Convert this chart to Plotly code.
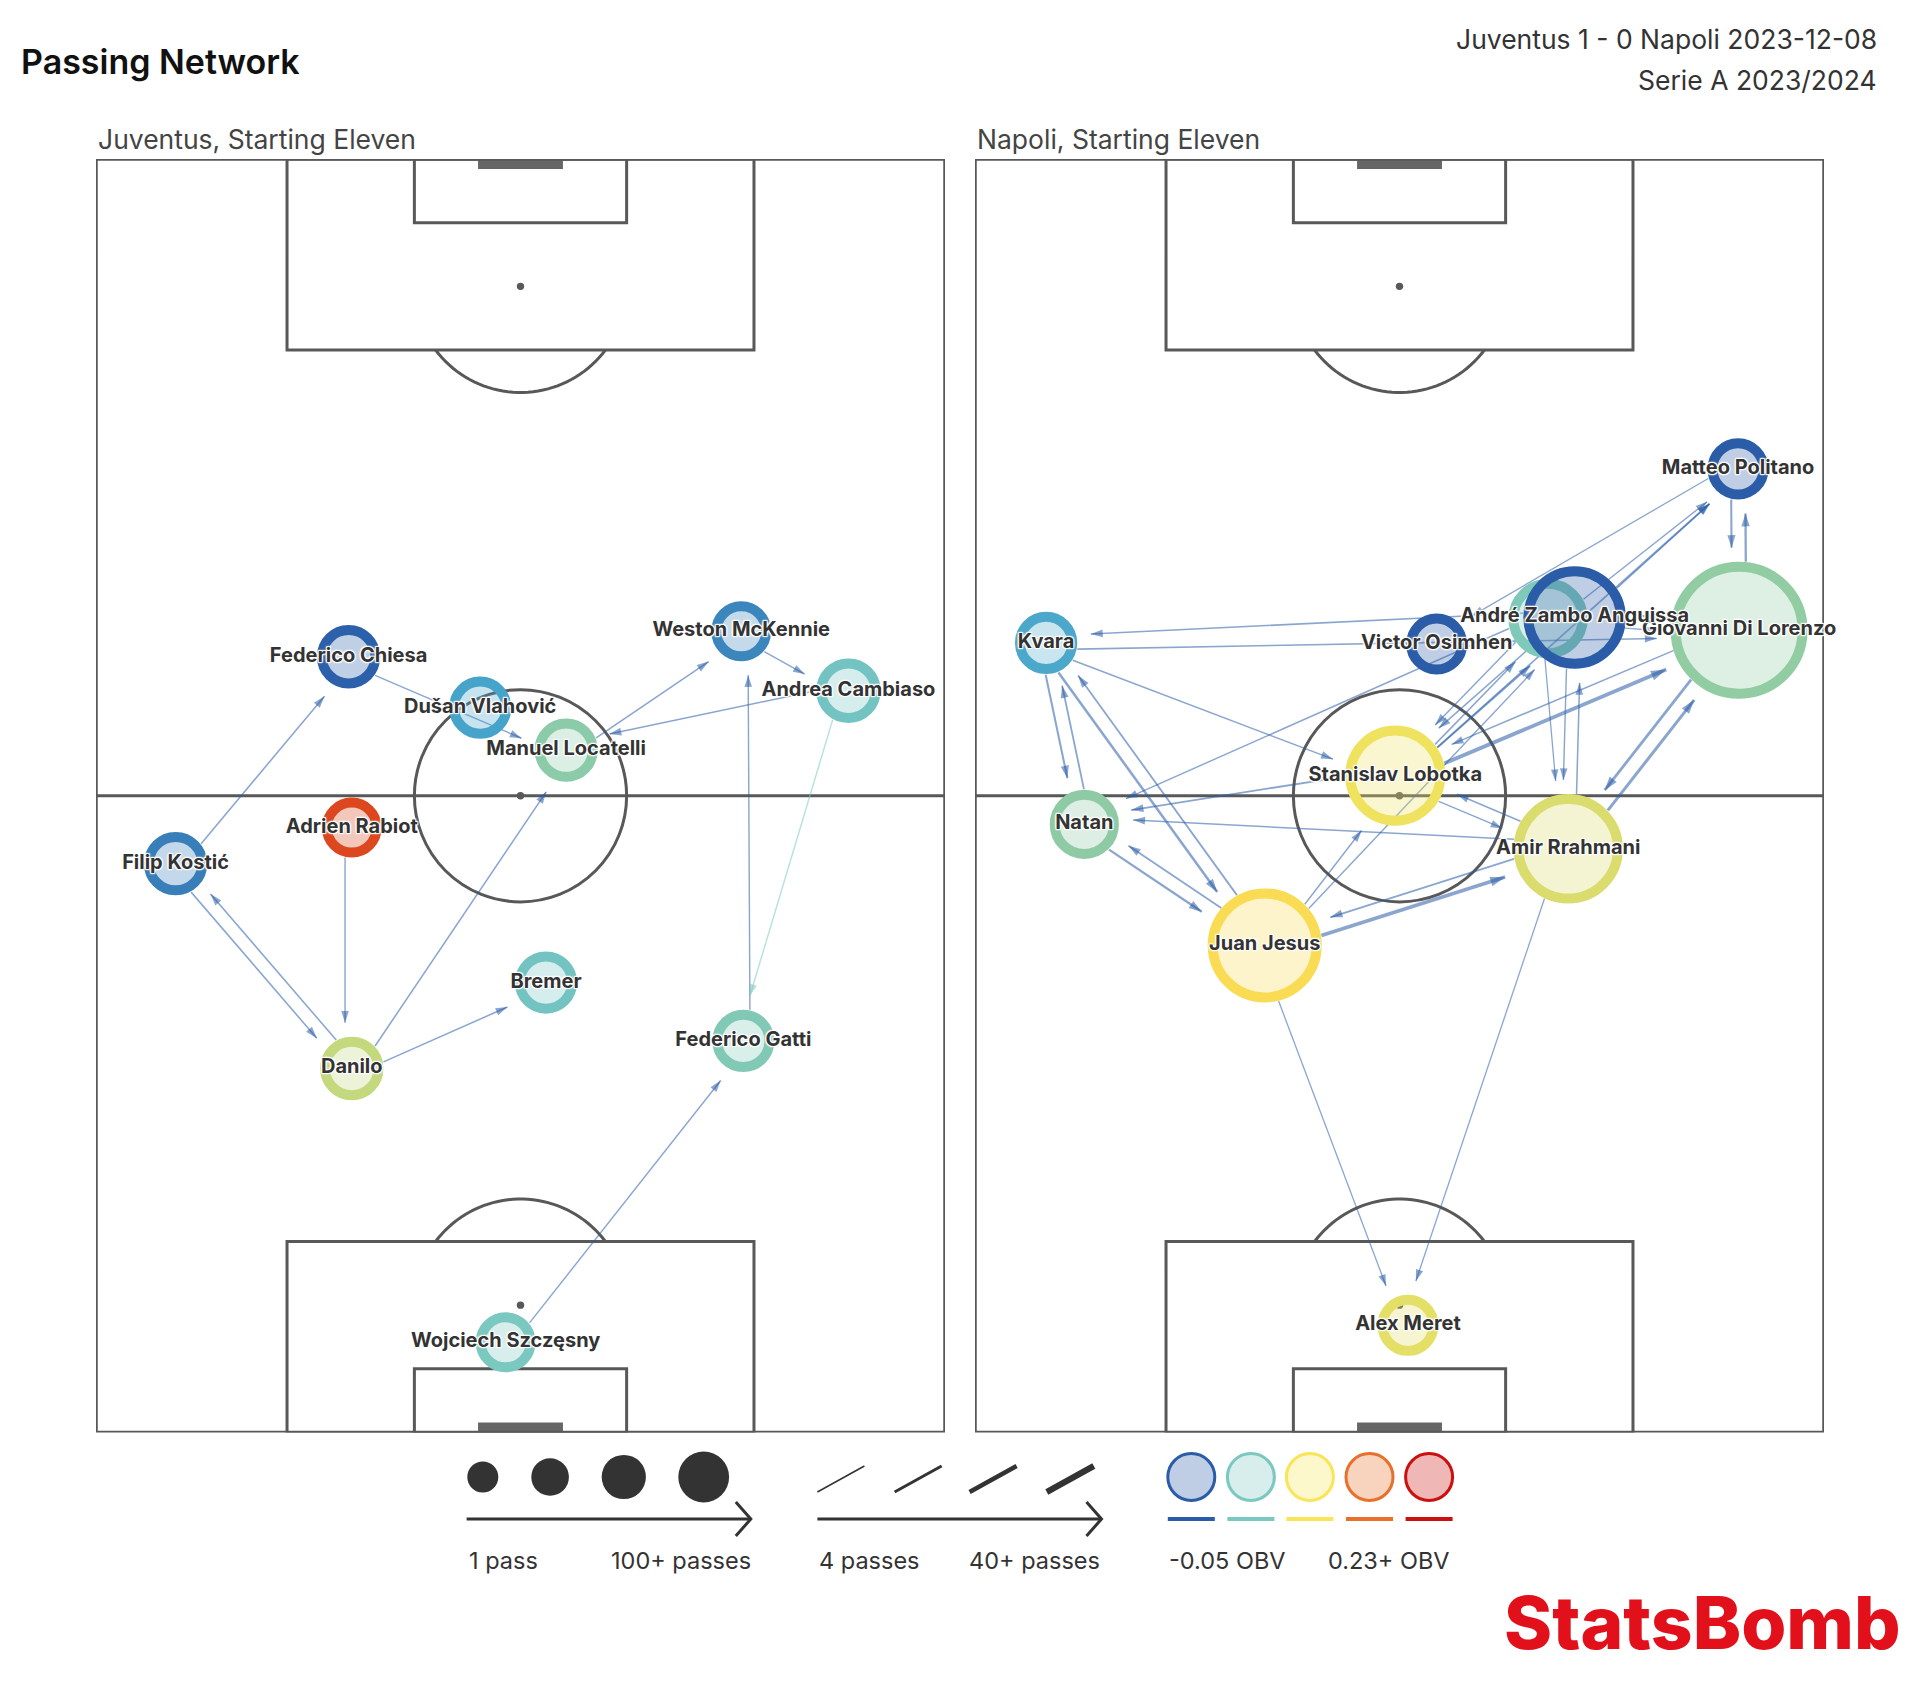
import numpy as np
import plotly.graph_objects as go

# ---------------- data ----------------
juve_names = ["Federico Chiesa", "Dušan Vlahović", "Manuel Locatelli", "Weston McKennie",
              "Andrea Cambiaso", "Adrien Rabiot", "Filip Kostić", "Bremer", "Danilo",
              "Federico Gatti", "Wojciech Szczęsny"]
juve_x = [23.8, 36.2, 44.3, 60.8, 70.9, 24.1, 7.5, 42.4, 24.1, 61.0, 38.6]
juve_y = [73.1, 68.3, 64.3, 75.5, 69.9, 57.0, 53.6, 42.4, 34.3, 36.9, 8.5]
juve_passes = [36, 35, 36, 33, 37, 33, 36, 35, 36, 35, 33]
juve_obv = [-0.048, -0.016, 0.037, -0.030, 0.015, 0.190, -0.033, 0.015, 0.065, 0.028, 0.020]
juve_show_label = [True] * 11

juve_edge_from = ["Filip Kostić", "Federico Chiesa", "Manuel Locatelli", "Andrea Cambiaso",
                  "Weston McKennie", "Federico Gatti", "Andrea Cambiaso", "Filip Kostić",
                  "Danilo", "Adrien Rabiot", "Danilo", "Danilo", "Wojciech Szczęsny"]
juve_edge_to = ["Federico Chiesa", "Manuel Locatelli", "Weston McKennie", "Manuel Locatelli",
                "Andrea Cambiaso", "Weston McKennie", "Federico Gatti", "Danilo",
                "Filip Kostić", "Danilo", "Manuel Locatelli", "Bremer", "Federico Gatti"]
juve_edge_passes = [6, 5, 6, 6, 5, 5, 5, 6, 6, 5, 6, 6, 5]
juve_edge_obv = [-0.05, -0.05, -0.05, -0.05, -0.05, -0.05, 0.02, -0.05, -0.05, -0.05, -0.05, -0.05, -0.05]

napoli_names = ["Matteo Politano", "Giovanni Di Lorenzo", "Piotr Zieliński", "André Zambo Anguissa",
                "Victor Osimhen", "Kvara", "Stanislav Lobotka", "Natan", "Amir Rrahmani",
                "Juan Jesus", "Alex Meret"]
napoli_x = [71.9, 72.0, 54.0, 56.5, 43.5, 6.7, 39.6, 10.3, 55.9, 27.3, 40.8]
napoli_y = [90.8, 75.6, 76.7, 76.8, 74.3, 74.4, 61.9, 57.3, 55.0, 45.9, 10.1]
napoli_passes = [34, 100, 50, 70, 34, 35, 68, 41, 76, 80, 34]
napoli_obv = [-0.050, 0.042, 0.025, -0.050, -0.050, -0.012, 0.085, 0.040, 0.075, 0.095, 0.080]
napoli_show_label = [True, True, False, True, True, True, True, True, True, True, True]

napoli_edge_from = ["Kvara", "Natan", "Kvara", "Juan Jesus", "Natan", "Juan Jesus", "Kvara", "Kvara",
                    "André Zambo Anguissa", "Stanislav Lobotka", "Amir Rrahmani", "Piotr Zieliński",
                    "Juan Jesus", "Amir Rrahmani", "Juan Jesus", "Juan Jesus",
                    "Stanislav Lobotka", "Giovanni Di Lorenzo", "Amir Rrahmani", "Giovanni Di Lorenzo",
                    "Stanislav Lobotka", "André Zambo Anguissa", "Piotr Zieliński", "Matteo Politano",
                    "Matteo Politano", "Giovanni Di Lorenzo", "Stanislav Lobotka", "André Zambo Anguissa",
                    "Stanislav Lobotka", "Piotr Zieliński", "André Zambo Anguissa", "Amir Rrahmani",
                    "Piotr Zieliński", "Stanislav Lobotka", "Amir Rrahmani", "André Zambo Anguissa",
                    "Giovanni Di Lorenzo", "Amir Rrahmani", "Juan Jesus"]
napoli_edge_to = ["Natan", "Kvara", "Juan Jesus", "Kvara", "Juan Jesus", "Natan", "Stanislav Lobotka",
                  "Giovanni Di Lorenzo", "Kvara", "Natan", "Natan", "Natan",
                  "Amir Rrahmani", "Juan Jesus", "Stanislav Lobotka", "André Zambo Anguissa",
                  "Giovanni Di Lorenzo", "Stanislav Lobotka", "Giovanni Di Lorenzo", "Amir Rrahmani",
                  "Matteo Politano", "Matteo Politano", "Matteo Politano", "Victor Osimhen",
                  "Giovanni Di Lorenzo", "Matteo Politano", "André Zambo Anguissa", "Stanislav Lobotka",
                  "Piotr Zieliński", "Stanislav Lobotka", "Amir Rrahmani", "André Zambo Anguissa",
                  "Amir Rrahmani", "Amir Rrahmani", "Stanislav Lobotka", "Giovanni Di Lorenzo",
                  "André Zambo Anguissa", "Alex Meret", "Alex Meret"]
napoli_edge_passes = [10, 8, 14, 8, 12, 8, 6, 6, 6, 8, 6, 5, 22, 8, 5, 5, 24, 6, 18, 16,
                      8, 6, 5, 4, 10, 12, 8, 6, 6, 5, 5, 6, 4, 5, 6, 5, 5, 4, 4]
napoli_edge_obv = [-0.05] * len(napoli_edge_passes)

# legend values
size_legend_passes = [1, 34, 67, 100]
size_legend_text = ["1 pass", "100+ passes"]
width_legend_passes = [4, 16, 28, 40]
width_legend_text = ["4 passes", "40+ passes"]
obv_legend_values = [-0.05, 0.02, 0.09, 0.16, 0.23]
obv_legend_text = ["-0.05 OBV", "0.23+ OBV"]

title_text = "Passing Network"
match_text = "Juventus 1 - 0 Napoli 2023-12-08"
comp_text = "Serie A 2023/2024"
team_titles = ["Juventus, Starting Eleven", "Napoli, Starting Eleven"]

# ---------------- styling / geometry ----------------
PAGE_W, PAGE_H = 1920, 1690
BODY = 8                      # default page margin around the figure div
W, H = PAGE_W - 2 * BODY, PAGE_H - 2 * BODY
PITCH_TOP = 159
PITCH_LEFTS = [96, 975]
SCALE = 10.6125          # px per pitch unit
PITCH_W, PITCH_L = 80, 120
RING = 10
LINE_C = "#585858"
TXT_C = "#333333"
FONT = "Inter"

OBV_STOPS = [-0.05, -0.015, 0.02, 0.04, 0.09, 0.16, 0.23]
OBV_COLS = ["#2a5ca8", "#47a5cb", "#7ac8c0", "#8ecba5", "#fae457", "#e8702a", "#cc1010"]


def hex2rgb(h):
    return tuple(int(h[i:i + 2], 16) for i in (1, 3, 5))


def obv_rgb(v):
    v = min(max(v, OBV_STOPS[0]), OBV_STOPS[-1])
    for i in range(len(OBV_STOPS) - 1):
        a, b = OBV_STOPS[i], OBV_STOPS[i + 1]
        if v <= b:
            t = (v - a) / (b - a)
            c0, c1 = hex2rgb(OBV_COLS[i]), hex2rgb(OBV_COLS[i + 1])
            return tuple(round(c0[k] + (c1[k] - c0[k]) * t) for k in range(3))
    return hex2rgb(OBV_COLS[-1])


def rgba(c, a):
    return f"rgba({c[0]},{c[1]},{c[2]},{a})"


def node_diam(p):
    return 22 + 1.15 * p


def edge_width(n):
    return 0.5 + 0.125 * n


def PX(x):
    return (x - BODY) / W


def PY(y):
    return 1 - (y - BODY) / H


fig = go.Figure()

teams = [
    dict(names=juve_names, x=juve_x, y=juve_y, passes=juve_passes, obv=juve_obv, show=juve_show_label,
         efrom=juve_edge_from, eto=juve_edge_to, epasses=juve_edge_passes, eobv=juve_edge_obv,
         xa="x", ya="y"),
    dict(names=napoli_names, x=napoli_x, y=napoli_y, passes=napoli_passes, obv=napoli_obv,
         show=napoli_show_label, efrom=napoli_edge_from, eto=napoli_edge_to,
         epasses=napoli_edge_passes, eobv=napoli_edge_obv, xa="x2", ya="y2"),
]

for tm in teams:
    pos = {n: np.array([x, y]) for n, x, y in zip(tm["names"], tm["x"], tm["y"])}
    diam = {n: node_diam(p) for n, p in zip(tm["names"], tm["passes"])}
    hx, hy, hang, hsize, hcol = [], [], [], [], []
    for s_name, d_name, n, ov in zip(tm["efrom"], tm["eto"], tm["epasses"], tm["eobv"]):
        s, d = pos[s_name], pos[d_name]
        v = d - s
        u = v / np.linalg.norm(v)
        nrm = np.array([u[1], -u[0]])
        w = edge_width(n) + 0.3
        off = (6 + w / 2) / SCALE
        p0 = s + u * (diam[s_name] / 2) / SCALE + nrm * off
        p1 = d - u * (diam[d_name] / 2 + 14) / SCALE + nrm * off
        col = rgba(obv_rgb(ov), 0.55)
        fig.add_trace(go.Scatter(x=[p0[0], p1[0]], y=[p0[1], p1[1]], mode="lines",
                                 line=dict(color=col, width=w), xaxis=tm["xa"], yaxis=tm["ya"],
                                 hoverinfo="skip", showlegend=False))
        hx.append(p1[0]); hy.append(p1[1])
        hang.append(float(np.degrees(np.arctan2(u[0], u[1]))))
        hsize.append(10 + 1.6 * w)
        hcol.append(col)
    fig.add_trace(go.Scatter(x=hx, y=hy, mode="markers", xaxis=tm["xa"], yaxis=tm["ya"],
                             marker=dict(symbol="arrow", angle=hang, size=hsize, color=hcol,
                                         opacity=1, line=dict(width=0)),
                             hoverinfo="skip", showlegend=False))
    ring_cols = [rgba(obv_rgb(o), 1) for o in tm["obv"]]
    fill_cols = [rgba(obv_rgb(o), 0.3) for o in tm["obv"]]
    fig.add_trace(go.Scatter(x=tm["x"], y=tm["y"], mode="markers", xaxis=tm["xa"], yaxis=tm["ya"],
                             marker=dict(size=[node_diam(p) - RING for p in tm["passes"]],
                                         color=fill_cols, opacity=1,
                                         line=dict(color=ring_cols, width=RING)),
                             text=tm["names"], hovertemplate="%{text}<extra></extra>",
                             showlegend=False, cliponaxis=False))
    fig.add_trace(go.Scatter(x=tm["x"], y=tm["y"], mode="text", xaxis=tm["xa"], yaxis=tm["ya"],
                             text=[n if sh else "" for n, sh in zip(tm["names"], tm["show"])],
                             textposition="middle center",
                             textfont=dict(family=FONT, size=20, color=TXT_C, weight=700,
                                           shadow="1px 1px 1px white, -1px -1px 1px white, 1px -1px 1px white, -1px 1px 1px white, 0px 0px 3px white"),
                             hoverinfo="skip", showlegend=False, cliponaxis=False))

# ---------------- pitch shapes ----------------
shapes = []


def pitch_shapes(xr, yr):
    out = []
    L = dict(color=LINE_C, width=3)

    def rect(x0, y0, x1, y1, fill=None):
        d = dict(type="rect", xref=xr, yref=yr, x0=x0, y0=y0, x1=x1, y1=y1, line=L, layer="below")
        if fill:
            d.update(fillcolor=fill, line=dict(width=0))
        out.append(d)

    rect(18, 102, 62, 120)
    rect(30, 114, 50, 120)
    rect(18, 0, 62, 18)
    rect(30, 0, 50, 6)
    rect(36, 119.05, 44, 120, fill="#666666")
    rect(36, 0, 44, 0.95, fill="#666666")
    out.append(dict(type="line", xref=xr, yref=yr, x0=0, y0=60, x1=80, y1=60, line=L, layer="below"))
    out.append(dict(type="circle", xref=xr, yref=yr, x0=30, y0=50, x1=50, y1=70, line=L, layer="below"))
    for cy in (60, 108, 12):
        out.append(dict(type="circle", xref=xr, yref=yr, x0=40 - 0.35, y0=cy - 0.35, x1=40 + 0.35,
                        y1=cy + 0.35, fillcolor=LINE_C, line=dict(width=0), layer="below"))
    a = np.arcsin(0.6)
    th = np.linspace(np.pi + a, 2 * np.pi - a, 40)
    path = "M " + " L ".join(f"{40 + 10 * np.cos(t):.3f},{108 + 10 * np.sin(t):.3f}" for t in th)
    out.append(dict(type="path", xref=xr, yref=yr, path=path, line=L, layer="below"))
    th = np.linspace(a, np.pi - a, 40)
    path = "M " + " L ".join(f"{40 + 10 * np.cos(t):.3f},{12 + 10 * np.sin(t):.3f}" for t in th)
    out.append(dict(type="path", xref=xr, yref=yr, path=path, line=L, layer="below"))
    out.append(dict(type="rect", xref=xr, yref=yr, x0=0, y0=0, x1=80, y1=120,
                    line=dict(color=LINE_C, width=3.5), layer="below"))
    return out


shapes += pitch_shapes("x", "y")
shapes += pitch_shapes("x2", "y2")

# ---------------- legend ----------------
LEG_CY = 1477
ARROW_Y = 1519
TEXT_Y = 1560
DARK = "#333333"


def circle_px(cx, cy, dd, **kw):
    r = dd / 2
    d = dict(type="circle", xref="paper", yref="paper", x0=PX(cx - r), x1=PX(cx + r),
             y0=PY(cy + r), y1=PY(cy - r))
    d.update(kw)
    return d


def arrow_px(x0, x1, y):
    return [dict(type="line", xref="paper", yref="paper", x0=PX(x0), x1=PX(x1), y0=PY(y), y1=PY(y),
                 line=dict(color=DARK, width=3)),
            dict(type="path", xref="paper", yref="paper",
                 path=f"M {PX(x1 - 15)},{PY(y - 17)} L {PX(x1)},{PY(y)} L {PX(x1 - 15)},{PY(y + 17)}",
                 line=dict(color=DARK, width=3))]


size_cx = [482.8, 550.1, 623.8, 703.7]
for cx, p in zip(size_cx, size_legend_passes):
    shapes.append(circle_px(cx, LEG_CY, 30.8 + 0.2 * p, fillcolor=DARK, line=dict(width=0)))
shapes += arrow_px(466.6, 750.8, ARROW_Y)

seg_x = [817.4, 894.6, 969.6, 1046.8]
for sx, p in zip(seg_x, width_legend_passes):
    shapes.append(dict(type="line", xref="paper", yref="paper", x0=PX(sx), x1=PX(sx + 47),
                       y0=PY(1492), y1=PY(1466), line=dict(color=DARK, width=edge_width(p) + 0.5)))
shapes += arrow_px(817.4, 1101.5, ARROW_Y)

obv_cx = [1191.3, 1250.9, 1309.9, 1369.5, 1429.1]
for cx, ov in zip(obv_cx, obv_legend_values):
    c = obv_rgb(ov)
    shapes.append(circle_px(cx, LEG_CY, 47, fillcolor=rgba(c, 0.3), line=dict(color=rgba(c, 1), width=3)))
    shapes.append(dict(type="line", xref="paper", yref="paper", x0=PX(cx - 23.5), x1=PX(cx + 23.5),
                       y0=PY(ARROW_Y), y1=PY(ARROW_Y), line=dict(color=rgba(c, 1), width=4)))

annotations = []


def txt(text, x, y, size, xanchor="left", color=DARK, weight=400, family=FONT):
    annotations.append(dict(text=text, x=PX(x), y=PY(y), xref="paper", yref="paper", showarrow=False,
                            xanchor=xanchor, yanchor="middle",
                            font=dict(family=family, size=size, color=color, weight=weight)))


txt(size_legend_text[0], 466.6, TEXT_Y, 23.5)
txt(size_legend_text[1], 752.9, TEXT_Y, 23.5, xanchor="right")
txt(width_legend_text[0], 817.4, TEXT_Y, 23.5)
txt(width_legend_text[1], 1101.5, TEXT_Y, 23.5, xanchor="right")
txt(obv_legend_text[0], 1166.7, TEXT_Y, 23.5)
txt(obv_legend_text[1], 1452.2, TEXT_Y, 23.5, xanchor="right")

txt(title_text, 19, 62, 34, color="#111111", weight=600)
txt(match_text, 1879, 39, 26.5, xanchor="right", color="#333333")
txt(comp_text, 1879, 80, 26.5, xanchor="right", color="#333333")
txt(team_titles[0], 96, 139, 26.5, color="#444444")
txt(team_titles[1], 975, 139, 26.5, color="#444444")
txt("StatsBomb", 1903, 1622, 73, xanchor="right", color="#e2101b", weight=800)

yb = PY(PITCH_TOP + PITCH_L * SCALE)
yt = PY(PITCH_TOP)
ax_common = dict(visible=False, fixedrange=True, showgrid=False, zeroline=False)
fig.update_layout(
    width=W, height=H, autosize=False,
    margin=dict(l=0, r=0, t=0, b=0),
    paper_bgcolor="white", plot_bgcolor="white",
    xaxis=dict(domain=[PX(PITCH_LEFTS[0]), PX(PITCH_LEFTS[0] + PITCH_W * SCALE)], range=[0, 80],
               anchor="y", **ax_common),
    yaxis=dict(domain=[yb, yt], range=[0, 120], anchor="x", **ax_common),
    xaxis2=dict(domain=[PX(PITCH_LEFTS[1]), PX(PITCH_LEFTS[1] + PITCH_W * SCALE)], range=[0, 80],
                anchor="y2", **ax_common),
    yaxis2=dict(domain=[yb, yt], range=[0, 120], anchor="x2", **ax_common),
    shapes=shapes,
    annotations=annotations,
    showlegend=False,
    font=dict(family=FONT),
)

fig.write_html("out.html")
